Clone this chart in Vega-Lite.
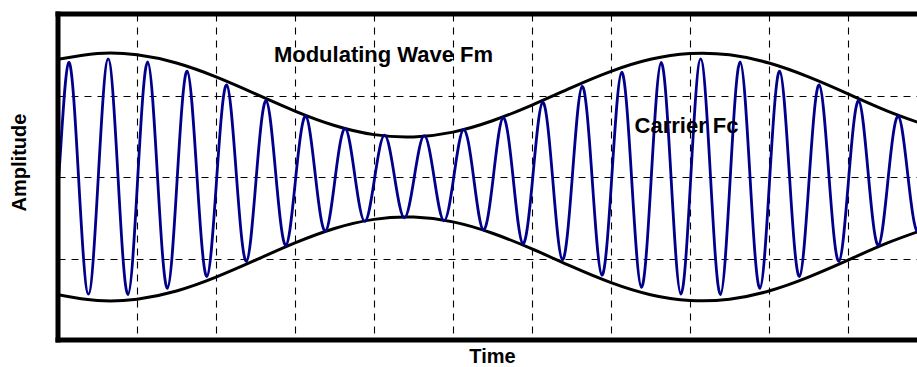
{
  "$schema": "https://vega.github.io/schema/vega-lite/v6.json",
  "width": 859,
  "height": 326,
  "autosize": {"type": "none"},
  "padding": {"left": 58, "top": 14, "right": 0, "bottom": 27},
  "background": "white",
  "config": {
    "view": {"stroke": null},
    "font": "Liberation Sans"
  },
  "datasets": {
    "labels": [
      {"t": 4.12, "amp": 1.411, "label": "Modulating Wave Fm"},
      {"t": 7.956, "amp": 0.54, "label": "Carrier Fc"}
    ],
    "envelope": [
      {"t": 0, "amp": 1.443, "curve": "upper"},
      {"t": 0.5, "amp": 1.515, "curve": "upper"},
      {"t": 1.0, "amp": 1.499, "curve": "upper"},
      {"t": 1.5, "amp": 1.398, "curve": "upper"},
      {"t": 2.0, "amp": 1.228, "curve": "upper"},
      {"t": 2.5, "amp": 1.020, "curve": "upper"},
      {"t": 3.0, "amp": 0.809, "curve": "upper"},
      {"t": 3.5, "amp": 0.632, "curve": "upper"},
      {"t": 4.0, "amp": 0.520, "curve": "upper"},
      {"t": 4.5, "amp": 0.492, "curve": "upper"},
      {"t": 5.0, "amp": 0.551, "curve": "upper"},
      {"t": 5.5, "amp": 0.690, "curve": "upper"},
      {"t": 6.0, "amp": 0.882, "curve": "upper"},
      {"t": 6.5, "amp": 1.097, "curve": "upper"},
      {"t": 7.0, "amp": 1.296, "curve": "upper"},
      {"t": 7.5, "amp": 1.444, "curve": "upper"},
      {"t": 8.0, "amp": 1.515, "curve": "upper"},
      {"t": 8.5, "amp": 1.499, "curve": "upper"},
      {"t": 9.0, "amp": 1.398, "curve": "upper"},
      {"t": 9.5, "amp": 1.228, "curve": "upper"},
      {"t": 10.0, "amp": 1.020, "curve": "upper"},
      {"t": 10.5, "amp": 0.809, "curve": "upper"},
      {"t": 11.0, "amp": 0.632, "curve": "upper"},
      {"t": 0, "amp": -1.443, "curve": "lower"},
      {"t": 0.5, "amp": -1.515, "curve": "lower"},
      {"t": 1.0, "amp": -1.499, "curve": "lower"},
      {"t": 1.5, "amp": -1.398, "curve": "lower"},
      {"t": 2.0, "amp": -1.228, "curve": "lower"},
      {"t": 2.5, "amp": -1.020, "curve": "lower"},
      {"t": 3.0, "amp": -0.809, "curve": "lower"},
      {"t": 3.5, "amp": -0.632, "curve": "lower"},
      {"t": 4.0, "amp": -0.520, "curve": "lower"},
      {"t": 4.5, "amp": -0.492, "curve": "lower"},
      {"t": 5.0, "amp": -0.551, "curve": "lower"},
      {"t": 5.5, "amp": -0.690, "curve": "lower"},
      {"t": 6.0, "amp": -0.882, "curve": "lower"},
      {"t": 6.5, "amp": -1.097, "curve": "lower"},
      {"t": 7.0, "amp": -1.296, "curve": "lower"},
      {"t": 7.5, "amp": -1.444, "curve": "lower"},
      {"t": 8.0, "amp": -1.515, "curve": "lower"},
      {"t": 8.5, "amp": -1.499, "curve": "lower"},
      {"t": 9.0, "amp": -1.398, "curve": "lower"},
      {"t": 9.5, "amp": -1.228, "curve": "lower"},
      {"t": 10.0, "amp": -1.020, "curve": "lower"},
      {"t": 10.5, "amp": -0.809, "curve": "lower"},
      {"t": 11.0, "amp": -0.632, "curve": "lower"}
    ],
    "carrier": [
      {"t": -0.115, "amp": -1.353}, {"t": 0.01, "amp": 0}, {"t": 0.135, "amp": 1.405}, {"t": 0.26, "amp": 0},
      {"t": 0.385, "amp": -1.437}, {"t": 0.51, "amp": 0}, {"t": 0.635, "amp": 1.450}, {"t": 0.76, "amp": 0},
      {"t": 0.885, "amp": -1.442}, {"t": 1.01, "amp": 0}, {"t": 1.135, "amp": 1.413}, {"t": 1.26, "amp": 0},
      {"t": 1.385, "amp": -1.365}, {"t": 1.51, "amp": 0}, {"t": 1.635, "amp": 1.300}, {"t": 1.76, "amp": 0},
      {"t": 1.885, "amp": -1.221}, {"t": 2.01, "amp": 0}, {"t": 2.135, "amp": 1.131}, {"t": 2.26, "amp": 0},
      {"t": 2.385, "amp": -1.035}, {"t": 2.51, "amp": 0}, {"t": 2.635, "amp": 0.935}, {"t": 2.76, "amp": 0},
      {"t": 2.885, "amp": -0.838}, {"t": 3.01, "amp": 0}, {"t": 3.135, "amp": 0.746}, {"t": 3.26, "amp": 0},
      {"t": 3.385, "amp": -0.665}, {"t": 3.51, "amp": 0}, {"t": 3.635, "amp": 0.597}, {"t": 3.76, "amp": 0},
      {"t": 3.885, "amp": -0.545}, {"t": 4.01, "amp": 0}, {"t": 4.135, "amp": 0.513}, {"t": 4.26, "amp": 0},
      {"t": 4.385, "amp": -0.500}, {"t": 4.51, "amp": 0}, {"t": 4.635, "amp": 0.508}, {"t": 4.76, "amp": 0},
      {"t": 4.885, "amp": -0.537}, {"t": 5.01, "amp": 0}, {"t": 5.135, "amp": 0.585}, {"t": 5.26, "amp": 0},
      {"t": 5.385, "amp": -0.650}, {"t": 5.51, "amp": 0}, {"t": 5.635, "amp": 0.729}, {"t": 5.76, "amp": 0},
      {"t": 5.885, "amp": -0.819}, {"t": 6.01, "amp": 0}, {"t": 6.135, "amp": 0.916}, {"t": 6.26, "amp": 0},
      {"t": 6.385, "amp": -1.015}, {"t": 6.51, "amp": 0}, {"t": 6.635, "amp": 1.112}, {"t": 6.76, "amp": 0},
      {"t": 6.885, "amp": -1.204}, {"t": 7.01, "amp": 0}, {"t": 7.135, "amp": 1.285}, {"t": 7.26, "amp": 0},
      {"t": 7.385, "amp": -1.353}, {"t": 7.51, "amp": 0}, {"t": 7.635, "amp": 1.405}, {"t": 7.76, "amp": 0},
      {"t": 7.885, "amp": -1.437}, {"t": 8.01, "amp": 0}, {"t": 8.135, "amp": 1.450}, {"t": 8.26, "amp": 0},
      {"t": 8.385, "amp": -1.442}, {"t": 8.51, "amp": 0}, {"t": 8.635, "amp": 1.413}, {"t": 8.76, "amp": 0},
      {"t": 8.885, "amp": -1.365}, {"t": 9.01, "amp": 0}, {"t": 9.135, "amp": 1.300}, {"t": 9.26, "amp": 0},
      {"t": 9.385, "amp": -1.221}, {"t": 9.51, "amp": 0}, {"t": 9.635, "amp": 1.131}, {"t": 9.76, "amp": 0},
      {"t": 9.885, "amp": -1.035}, {"t": 10.01, "amp": 0}, {"t": 10.135, "amp": 0.935}, {"t": 10.26, "amp": 0},
      {"t": 10.385, "amp": -0.838}, {"t": 10.51, "amp": 0}, {"t": 10.635, "amp": 0.746}, {"t": 10.76, "amp": 0},
      {"t": 10.885, "amp": -0.665}, {"t": 11.01, "amp": 0}, {"t": 11.135, "amp": 0.597}
    ]
  },
  "layer": [
    {
      "data": {"name": "envelope"},
      "mark": {"type": "line", "interpolate": "natural", "color": "black", "strokeWidth": 3, "clip": true},
      "encoding": {
        "x": {
          "field": "t", "type": "quantitative",
          "scale": {"domain": [0, 10.8734], "nice": false, "zero": false},
          "axis": {
            "title": "Time", "values": [1, 2, 3, 4, 5, 6, 7, 8, 9, 10],
            "labels": false, "ticks": false, "domain": false,
            "grid": true, "gridColor": "black", "gridDash": [7, 6], "gridWidth": 1.1, "gridOpacity": 1,
            "titleFont": "Liberation Sans", "titleFontSize": 20, "titleFontWeight": "bold", "titleColor": "black",
            "titleBaseline": "alphabetic", "titleY": 22.5, "titleX": 434
          }
        },
        "y": {
          "field": "amp", "type": "quantitative",
          "scale": {"domain": [-2, 2], "nice": false, "zero": false},
          "axis": {
            "title": "Amplitude", "values": [-1, 0, 1],
            "labels": false, "ticks": false, "domain": false,
            "grid": true, "gridColor": "black", "gridDash": [7, 6], "gridWidth": 1.1, "gridOpacity": 1,
            "titleFont": "Liberation Sans", "titleFontSize": 20, "titleFontWeight": "bold", "titleColor": "black",
            "titleAngle": -90, "titleAlign": "center", "titleBaseline": "alphabetic", "titleX": -33, "titleY": 148
          }
        },
        "detail": {"field": "curve"}
      }
    },
    {
      "data": {"name": "carrier"},
      "mark": {"type": "line", "interpolate": "natural", "color": "#00008b", "strokeWidth": 2.8, "clip": true},
      "encoding": {
        "x": {"field": "t", "type": "quantitative", "title": "Time"},
        "y": {"field": "amp", "type": "quantitative", "title": "Amplitude"}
      }
    },
    {
      "data": {"name": "labels"},
      "mark": {"type": "text", "font": "Liberation Sans", "fontSize": 22, "fontWeight": "bold", "align": "center", "baseline": "alphabetic", "color": "black"},
      "encoding": {
        "x": {"field": "t", "type": "quantitative", "title": "Time"},
        "y": {"field": "amp", "type": "quantitative", "title": "Amplitude"},
        "text": {"field": "label"}
      }
    },
    {
      "data": {"values": [{"edge": 0}]},
      "mark": {"type": "rule", "color": "black", "strokeWidth": 5, "strokeCap": "square"},
      "encoding": {"x": {"field": "edge", "type": "quantitative", "title": "Time"}}
    },
    {
      "data": {"values": [{"edge": 2}, {"edge": -2}]},
      "mark": {"type": "rule", "color": "black", "strokeWidth": 5, "strokeCap": "square"},
      "encoding": {"y": {"field": "edge", "type": "quantitative", "title": "Amplitude"}}
    }
  ]
}
